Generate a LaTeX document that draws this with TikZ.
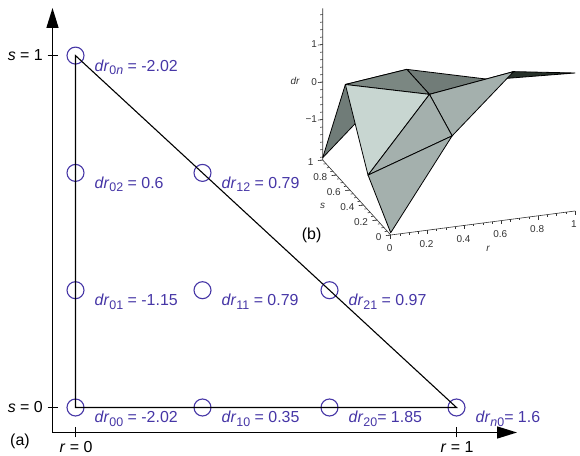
\documentclass[tikz,border=0pt]{standalone}
\usepackage{fontspec}
\setmainfont{Liberation Sans}
\usetikzlibrary{arrows.meta}
\definecolor{drblue}{HTML}{4636A6}
\definecolor{facelight}{HTML}{C8D6D1}
\definecolor{facemid}{HTML}{A4B0AD}
\definecolor{facedark}{HTML}{7B8782}
\definecolor{faceleft}{HTML}{707C78}
\definecolor{facedeep}{HTML}{263029}
\definecolor{tickgrey}{HTML}{333333}
\newcommand{\drsub}[1]{\raisebox{-3.5bp}{\fontsize{12.5}{13}\selectfont#1}}
\newcommand{\drlab}[2]{\textit{dr}\drsub{#1}#2}

\begin{document}
\begin{tikzpicture}[x=1bp,y=1bp,
  axis/.style={line width=1.5bp,{Triangle[length=20bp,width=12bp]}-{Triangle[length=20bp,width=12bp]}},
  tri/.style={line width=1.1bp},
  pt/.style={circle,draw=drblue,line width=1.1bp,minimum size=17bp,inner sep=0pt},
  val/.style={text=drblue,font=\fontsize{16}{18}\selectfont,anchor=base west,inner sep=0pt},
  lab/.style={font=\fontsize{16}{18}\selectfont,inner sep=0pt},
  face/.style={draw=black,line width=0.8bp,line join=round},
  tk/.style={font=\fontsize{10}{12}\selectfont,text=tickgrey,inner sep=0pt},
  ax3/.style={draw=tickgrey,line width=0.6bp}
]
\useasboundingbox (0,0) rectangle (580,456);

% (a) reference triangle
\coordinate (stop) at (52.5,448);
\coordinate (orig) at (52.5,23.5);
\coordinate (rstop) at (517,23.5);
\draw[axis] (stop) -- (orig) -- (rstop);
\draw[tri] (47.5,400.5) -- (57.5,400.5);
\draw[tri] (47.5,48.5) -- (57.5,48.5);
\draw[tri] (75.5,18.5) -- (75.5,28.5);
\draw[tri] (456.5,18.5) -- (456.5,28.5);
\node[lab,anchor=base east] (s1) at (43,395) {\textit{s} = 1};
\node[lab,anchor=base east] (s0) at (43,43) {\textit{s} = 0};
\node[lab,anchor=base] (r0) at (76,3) {\textit{r} = 0};
\node[lab,anchor=base] (r1) at (457,3) {\textit{r} = 1};
\node[lab,anchor=base west] (capa) at (10,10) {(a)};

\foreach \i/\j in {0/0,1/0,2/0,3/0,0/1,1/1,2/1,0/2,1/2,0/3}
  \node[pt] (c\i\j) at ({75.5+127*\i},{48.5+117.3*\j}) {};
\draw[tri] (c03.center) -- (c00.center) -- (c30.center) -- cycle;

\node[val] (v00) at ([xshift=19bp,yshift=-15.5bp]c00.center) {\drlab{00}{ = -2.02}};
\node[val] (v10) at ([xshift=19bp,yshift=-15.5bp]c10.center) {\drlab{10}{ = 0.35}};
\node[val] (v20) at ([xshift=19bp,yshift=-15.5bp]c20.center) {\drlab{20}{= 1.85}};
\node[val] (v30) at ([xshift=19bp,yshift=-15.5bp]c30.center) {\drlab{\textit{n}0}{= 1.6}};
\node[val] (v01) at ([xshift=19bp,yshift=-15.5bp]c01.center) {\drlab{01}{ = -1.15}};
\node[val] (v11) at ([xshift=19bp,yshift=-15.5bp]c11.center) {\drlab{11}{ = 0.79}};
\node[val] (v21) at ([xshift=19bp,yshift=-15.5bp]c21.center) {\drlab{21}{ = 0.97}};
\node[val] (v02) at ([xshift=19bp,yshift=-15.5bp]c02.center) {\drlab{02}{ = 0.6}};
\node[val] (v12) at ([xshift=19bp,yshift=-15.5bp]c12.center) {\drlab{12}{ = 0.79}};
\node[val] (v03) at ([xshift=19bp,yshift=-15.5bp]c03.center) {\drlab{0\textit{n}}{ = -2.02}};

% (b) surface of dr over the triangle
\begin{scope}[shift={(390.7,299)},x={(184.3bp,24bp)},y={(-68bp,75bp)},z={(0bp,37.5bp)}]
  \coordinate (drtop) at (0,1,1.96);
  \coordinate (back) at (0,1,-2.08);
  \coordinate (front) at (0,0,-2.08);
  \coordinate (rend) at (1,0,-2.08);
  \draw[ax3] (drtop) -- (back) -- (front) -- (rend);
  \foreach \d in {-2,-1.8,...,1.85}
    \draw[ax3] (0,1,\d) -- ++(-0.014,0,0);
  \foreach \d in {-1,0,1}
    \draw[ax3] (0,1,\d) -- ++(-0.026,0,0);
  \foreach \v in {0,0.05,...,1.01}
    \draw[ax3] (0,\v,-2.08) -- ++(-0.014,0,0);
  \foreach \v in {0,0.2,...,1.01}
    \draw[ax3] (0,\v,-2.08) -- ++(-0.026,0,0);
  \foreach \v in {0,0.05,...,1.01}
    \draw[ax3] (\v,0,-2.08) -- ++(0,0,-0.06);
  \foreach \v in {0,0.2,...,1.01}
    \draw[ax3] (\v,0,-2.08) -- ++(0,0,-0.1);

  \node[tk,anchor=east] (dl1) at ([xshift=-5.5bp]0,1,1) {1};
  \node[tk,anchor=east] (dl0) at ([xshift=-5.5bp]0,1,0) {0};
  \node[tk,anchor=east] (dlm) at ([xshift=-5.5bp]0,1,-1) {−1};
  \foreach \v [count=\k] in {0,0.2,0.4,0.6,0.8,1}
    \node[tk,anchor=east] (sl\k) at ([xshift=-9bp,yshift=-2.5bp]0,\v,-2.08) {\v};
  \foreach \v [count=\k] in {0,0.2,0.4,0.6,0.8,1}
    \node[tk] (rl\k) at ([xshift=-1bp,yshift=-13.5bp]\v,0,-2.08) {\v};

  \coordinate (p00) at (0,0,-2.02);
  \coordinate (p10) at (0.3333,0,0.35);
  \coordinate (p20) at (0.6667,0,1.85);
  \coordinate (p30) at (1,0,1.6);
  \coordinate (p01) at (0,0.3333,-1.15);
  \coordinate (p11) at (0.3333,0.3333,0.79);
  \coordinate (p21) at (0.6667,0.3333,0.97);
  \coordinate (p02) at (0,0.6667,0.6);
  \coordinate (p12) at (0.3333,0.6667,0.79);
  \coordinate (p03) at (0,1,-2.02);

  % back to front
  \filldraw[face,fill=facedeep] (p20) -- (p30) -- (p21) -- cycle;
  \filldraw[face,fill=facedark!92!black] (p11) -- (p21) -- (p12) -- cycle;
  \filldraw[face,fill=faceleft] (p02) -- (p12) -- (p03) -- cycle;
  \filldraw[face,fill=facedark] (p11) -- (p12) -- (p02) -- cycle;
  \filldraw[face,fill=facemid] (p20) -- (p21) -- (p11) -- cycle;
  \filldraw[face,fill=facemid] (p10) -- (p20) -- (p11) -- cycle;
  \filldraw[face,fill=facelight] (p01) -- (p11) -- (p02) -- cycle;
  \filldraw[face,fill=facemid] (p10) -- (p11) -- (p01) -- cycle;
  \filldraw[face,fill=facemid] (p00) -- (p10) -- (p01) -- cycle;
\end{scope}
\node[tk,font=\fontsize{10}{12}\selectfont\itshape] (drname) at (295,375) {dr};
\node[tk,font=\fontsize{10}{12}\selectfont\itshape] (sname) at (322.7,250) {s};
\node[tk,font=\fontsize{10}{12}\selectfont\itshape] (rname) at (488,207) {r};
\node[lab,anchor=base west] (capb) at (301.7,216.7) {(b)};
\end{tikzpicture}
\end{document}
